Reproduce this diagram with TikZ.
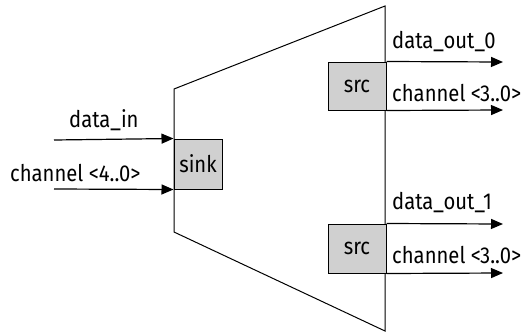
\documentclass[tikz,border=0pt]{standalone}
\usepackage{fontspec}
\setmainfont[FakeStretch=0.88]{Fira Sans}
\usetikzlibrary{arrows.meta,positioning}
\definecolor{boxfill}{HTML}{D0D0D0}

\begin{document}
\begin{tikzpicture}[x=1pt,y=-1pt,
  blk/.style={draw,fill=boxfill,line width=1pt,inner sep=0pt,font=\fontsize{23}{26}\selectfont},
  sig/.style={-{Triangle[length=12pt,width=10pt]},line width=1.2pt},
  lbl/.style={inner sep=0pt,anchor=base west,font=\fontsize{23}{26}\selectfont}]
  \useasboundingbox (0,0) rectangle (526,332);

  % adapter outline
  \draw[line width=1pt] (174,89) -- (385,6) -- (385,331) -- (174,232) -- cycle;

  \node[blk,minimum width=48pt,minimum height=50pt] (sink) at (198,164) {sink};
  \node[blk,minimum width=58pt,minimum height=48pt] (src0) at (357,86) {src};
  \node[blk,minimum width=58pt,minimum height=49pt] (src1) at (357,248.5) {src};

  % inputs
  \coordinate (din) at (54,140);
  \coordinate (cin) at (54,189);
  \draw[sig] (din) -- (sink.north west);
  \draw[sig] (cin) -- (sink.south west);
  \node[lbl] (din-l) at (69,127) {data\_in};
  \node[lbl] (cin-l) at (10,181) {channel <4..0>};

  % outputs
  \coordinate (dout0) at (503,62);
  \coordinate (cout0) at (503,110);
  \coordinate (dout1) at (503,224);
  \coordinate (cout1) at (503,273);
  \draw[sig] (src0.north east) -- (dout0);
  \draw[sig] (src0.south east) -- (cout0);
  \draw[sig] (src1.north east) -- (dout1);
  \draw[sig] (src1.south east) -- (cout1);
  \node[lbl] (dout0-l) at (392,48) {data\_out\_0};
  \node[lbl] (cout0-l) at (392,101) {channel <3..0>};
  \node[lbl] (dout1-l) at (392,209) {data\_out\_1};
  \node[lbl] (cout1-l) at (392,263) {channel <3..0>};
\end{tikzpicture}
\end{document}
